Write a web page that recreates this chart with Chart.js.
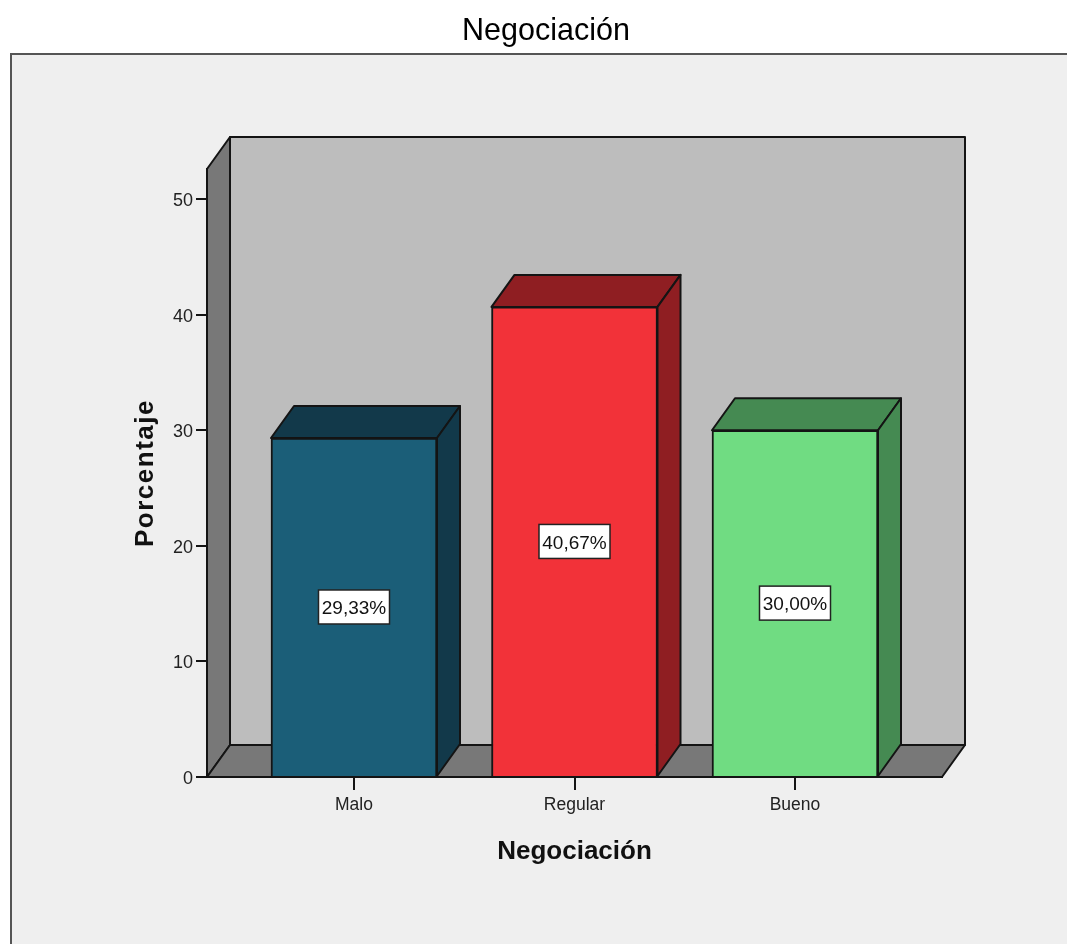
<!DOCTYPE html>
<html lang="es">
<head>
<meta charset="utf-8">
<title>Negociación</title>
<script src="https://cdn.jsdelivr.net/npm/chart.js@4"></script>
<style>
  html, body { margin: 0; height: 100%; background: #fff; overflow: hidden; }
  #panel { position: absolute; left: 10px; top: 53px; right: 0; bottom: 0; background: #efefef; border-left: 2px solid #555; border-top: 2px solid #555; }
  #wrap { position: absolute; left: 0; top: 0; width: 1092px; height: 944px; }
</style>
</head>
<body>
<div id="panel"></div>
<div id="wrap"><canvas id="chart"></canvas></div>
<script>
// datos
const categorias = ['Malo', 'Regular', 'Bueno'];
const porcentajes = [29.33, 40.67, 30.00];
const posiciones = [0, 1, 2];
const ticksY = [0, 10, 20, 30, 40, 50];

// colores
const frente = ['#1b5e78', '#f23239', '#70dc82'];
const lateral = ['#12394a', '#8f1e22', '#458a52'];

// profundidad del efecto 3D
const DX = 23, DY = -32;
const LINEA = '#141414';

function cara(ctx, puntos, relleno) {
  ctx.beginPath();
  puntos.forEach((p, i) => i ? ctx.lineTo(p[0], p[1]) : ctx.moveTo(p[0], p[1]));
  ctx.closePath();
  ctx.fillStyle = relleno;
  ctx.fill();
  ctx.stroke();
}

// paredes, suelo y caras laterales de las barras
const caja3d = {
  id: 'caja3d',
  beforeDraw(chart) {
    // el titulo del eje Y va con mas espacio entre letras
    const y = chart.scales.y;
    if (!y.tituloParcheado) {
      const original = y.drawTitle;
      y.drawTitle = function() {
        this.ctx.save();
        this.ctx.letterSpacing = '1.5px';
        original.call(this);
        this.ctx.restore();
      };
      y.tituloParcheado = true;
    }
  },
  beforeDatasetsDraw(chart) {
    const { ctx, chartArea: a } = chart;
    ctx.save();
    ctx.strokeStyle = LINEA;
    ctx.lineWidth = 2;
    ctx.lineJoin = 'round';
    cara(ctx, [[a.left + DX, a.top + DY], [a.right + DX, a.top + DY], [a.right + DX, a.bottom + DY], [a.left + DX, a.bottom + DY]], '#bdbdbd');
    cara(ctx, [[a.left, a.top], [a.left + DX, a.top + DY], [a.left + DX, a.bottom + DY], [a.left, a.bottom]], '#787878');
    cara(ctx, [[a.left, a.bottom], [a.left + DX, a.bottom + DY], [a.right + DX, a.bottom + DY], [a.right, a.bottom]], '#787878');
    chart.getDatasetMeta(0).data.forEach((bar, i) => {
      const { x, y, base, width } = bar.getProps(['x', 'y', 'base', 'width'], false);
      const l = x - width / 2, r = x + width / 2;
      cara(ctx, [[l, y], [l + DX, y + DY], [r + DX, y + DY], [r, y]], lateral[i]);
      cara(ctx, [[r, y], [r + DX, y + DY], [r + DX, base + DY], [r, base]], lateral[i]);
    });
    ctx.restore();
  },
  afterDatasetsDraw(chart) {
    // etiquetas de porcentaje
    const { ctx } = chart;
    ctx.save();
    ctx.font = '19px "Liberation Sans"';
    ctx.textAlign = 'center';
    ctx.textBaseline = 'middle';
    chart.getDatasetMeta(0).data.forEach((bar, i) => {
      const { x, y, base } = bar.getProps(['x', 'y', 'base'], false);
      const cy = (y + base) / 2;
      const w = 71, h = 34;
      ctx.fillStyle = '#fff';
      ctx.strokeStyle = '#222';
      ctx.lineWidth = 1.5;
      ctx.fillRect(x - w / 2, cy - h / 2, w, h);
      ctx.strokeRect(x - w / 2, cy - h / 2, w, h);
      ctx.fillStyle = '#111';
      ctx.fillText(porcentajes[i].toFixed(2).replace('.', ',') + '%', x, cy + 2);
    });
    ctx.restore();
  }
};

new Chart(document.getElementById('chart'), {
  type: 'bar',
  data: {
    datasets: [{
      data: posiciones.map((p, i) => ({ x: p, y: porcentajes[i] })),
      backgroundColor: frente,
      borderColor: LINEA,
      borderWidth: 2,
      barThickness: 166
    }]
  },
  options: {
    responsive: true,
    maintainAspectRatio: false,
    animation: false,
    layout: { padding: { left: 150, right: 150, top: 0, bottom: 77 } },
    plugins: {
      legend: { display: false },
      tooltip: { enabled: false },
      title: {
        display: true,
        text: 'Negociación',
        color: '#000',
        font: { family: '"Liberation Sans"', size: 30.5, weight: 'normal' },
        padding: { top: 13, bottom: 119.4 }
      }
    },
    scales: {
      x: {
        type: 'linear',
        offset: false,
        min: -2 / 3,
        max: 8 / 3,
        afterBuildTicks(scale) { scale.ticks = posiciones.map(v => ({ value: v })); },
        afterFit(scale) { scale.height = 90; },
        grid: { offset: false, drawOnChartArea: false, drawTicks: true, tickLength: 13, color: LINEA, lineWidth: 2 },
        border: { color: LINEA, width: 2 },
        ticks: {
          autoSkip: false,
          maxRotation: 0,
          padding: 5,
          color: '#222',
          font: { family: '"Liberation Sans"', size: 17.5 },
          callback: v => categorias[v]
        },
        title: {
          display: true,
          text: 'Negociación',
          color: '#111',
          font: { family: '"Liberation Sans"', size: 26, weight: 'bold' },
          padding: { top: 4, bottom: 0 }
        }
      },
      y: {
        min: 0,
        max: 52.6,
        afterBuildTicks(scale) { scale.ticks = ticksY.map(v => ({ value: v })); },
        afterFit(scale) { scale.width = 57; },
        grid: { drawOnChartArea: false, drawTicks: true, tickLength: 11, color: LINEA, lineWidth: 2 },
        border: { color: LINEA, width: 2 },
        ticks: {
          padding: 3,
          labelOffset: 2,
          color: '#222',
          font: { family: '"Liberation Sans"', size: 18 }
        },
        title: {
          display: true,
          text: 'Porcentaje',
          color: '#111',
          font: { family: '"Liberation Sans"', size: 26, weight: 'bold' },
          padding: { top: -20, bottom: 0 }
        }
      }
    }
  },
  plugins: [caja3d]
});
</script>
</body>
</html>
